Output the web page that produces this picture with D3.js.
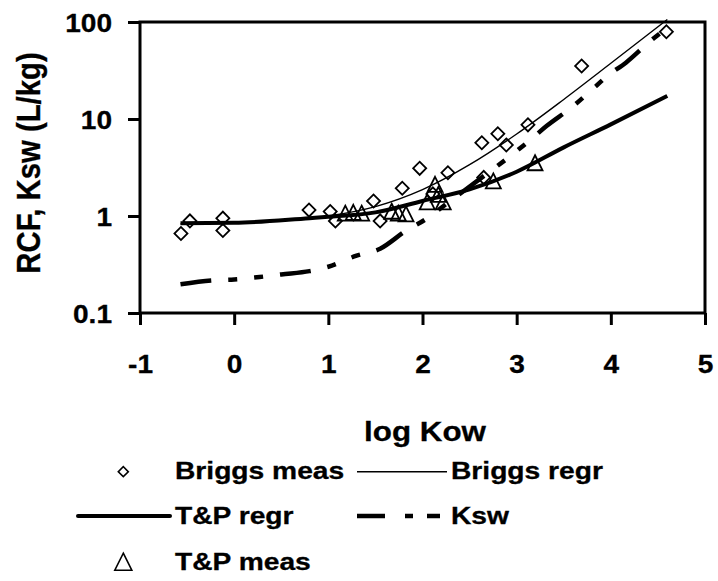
<!DOCTYPE html>
<html><head><meta charset="utf-8">
<script src="https://cdn.jsdelivr.net/npm/d3@7"></script>
<style>
html,body{margin:0;padding:0;background:#fff;}
svg{display:block;}
text{font-family:"Liberation Sans",Arial,sans-serif;font-weight:bold;fill:#000;stroke:#000;stroke-width:0.3px;}
</style></head><body>
<svg id="chart" width="718" height="581"></svg>
<script>
// ---- data ----
const xTicks = [-1, 0, 1, 2, 3, 4, 5];
const yTicks = [0.1, 1, 10, 100];
const yTickLabels = ["0.1", "1", "10", "100"];
const xTitle = "log Kow";
const yTitle = "RCF, Ksw (L/kg)";

const briggsMeasX = [-0.565, -0.47, -0.12, -0.12, 0.795, 1.02, 1.075, 1.48, 1.55, 1.785, 1.97, 2.11, 2.27, 2.63, 2.65, 2.80, 2.89, 3.12, 3.69, 4.59];
const briggsMeasY = [0.66, 0.89, 0.95, 0.71, 1.15, 1.11, 0.89, 1.43, 0.89, 1.93, 3.1, 1.69, 2.79, 5.7, 2.5, 7.05, 5.4, 8.7, 35.2, 79.4];

const tpMeasX = [1.18, 1.265, 1.354, 1.673, 1.743, 1.825, 2.05, 2.133, 2.168, 2.22, 2.752, 3.195];
const tpMeasY = [1.07, 1.09, 1.07, 1.12, 1.07, 1.05, 1.40, 2.12, 1.67, 1.40, 2.30, 3.54];

const briggsRegrX = [-0.57, 0, 0.5, 1, 1.5, 2, 2.5, 3, 3.5, 4, 4.6];
const briggsRegrY = [0.83, 0.85, 0.89, 1.0, 1.25, 1.87, 3.38, 7.0, 15.9, 37.5, 106];

const tpRegrX = [-0.57, 0, 0.8, 1, 1.5, 2, 2.5, 3, 3.5, 4, 4.6];
const tpRegrY = [0.84, 0.85, 0.95, 0.98, 1.09, 1.43, 1.88, 2.86, 5.1, 8.8, 17.3];

const kswX = [-0.57, -0.24, 0, 0.27, 0.5, 0.8, 1.0, 1.3, 1.55, 1.82, 2.03, 2.3, 2.6, 2.91, 3.14, 3.32, 3.58, 3.77, 3.97, 4.16, 4.40, 4.6];
const kswY = [0.198, 0.217, 0.222, 0.235, 0.25, 0.27, 0.30, 0.39, 0.46, 0.70, 0.92, 1.44, 2.37, 3.99, 6.03, 8.5, 13.1, 18.9, 28.1, 38.1, 61.2, 88];

const legendLabels = ["Briggs meas", "Briggs regr", "T&P regr", "Ksw", "T&P meas"];

// ---- layout ----
const L = 140, R = 705, T = 22, B = 313;
const SX = 1.1; // horizontal text stretch for tick labels
const svg = d3.select("#chart");
const x = d3.scaleLinear().domain([-1, 5]).range([L, R]);
const y = d3.scaleLog().domain([0.1, 100]).range([B, T]);

// frame
svg.append("rect").attr("x", L).attr("y", T).attr("width", R - L).attr("height", B - T)
  .attr("fill", "none").attr("stroke", "#000").attr("stroke-width", 3);

// axes
const yAxis = svg.append("g").attr("transform", `translate(${L},0)`)
  .call(d3.axisLeft(y).tickValues(yTicks).tickSize(12).tickSizeOuter(0)
    .tickFormat((d, i) => yTickLabels[i]));
const xAxis = svg.append("g").attr("transform", `translate(0,${B})`)
  .call(d3.axisBottom(x).tickValues(xTicks).tickSize(12).tickSizeOuter(0)
    .tickFormat(d => String(d)));
[yAxis, xAxis].forEach(g => {
  g.select(".domain").remove();
  g.selectAll(".tick line").attr("stroke", "#000").attr("stroke-width", 3);
  g.selectAll(".tick text").attr("fill", "#000").style("font-size", "25.5px")
    .style("font-family", '"Liberation Sans",Arial,sans-serif').style("font-weight", "bold");
});
yAxis.selectAll(".tick text").attr("x", -28 / SX).attr("dy", "0.36em")
  .attr("transform", `scale(${SX},1)`);
xAxis.selectAll(".tick text").attr("y", 60).attr("dy", 0)
  .attr("transform", `scale(${SX},1)`);

// titles
svg.append("text").attr("transform", `translate(425,441) scale(1.12,1)`)
  .attr("text-anchor", "middle").style("font-size", "28px").text(xTitle);
svg.append("text").attr("transform", `translate(40,163) scale(1.12,1) rotate(-90)`)
  .attr("text-anchor", "middle").style("font-size", "29.3px").text(yTitle);

// lines
const line = d3.line().x(d => x(d[0])).y(d => y(d[1])).curve(d3.curveMonotoneX);
const zip = (a, b) => a.map((v, i) => [v, b[i]]);
svg.append("path").datum(zip(kswX, kswY)).attr("d", line).attr("fill", "none")
  .attr("stroke", "#000").attr("stroke-width", 4.5).attr("stroke-dasharray", "31,17,9,17,9,17");
svg.append("path").datum(zip(tpRegrX, tpRegrY)).attr("d", line).attr("fill", "none")
  .attr("stroke", "#000").attr("stroke-width", 4);
svg.append("path").datum(zip(briggsRegrX, briggsRegrY)).attr("d", line).attr("fill", "none")
  .attr("stroke", "#000").attr("stroke-width", 1.4);

// markers
const diamond = d3.symbol().type(d3.symbolSquare).size(85);
const triPath = s => `M0,${-s / 2}L${s / 2},${s / 2}L${-s / 2},${s / 2}Z`;
svg.append("g").selectAll("path").data(zip(briggsMeasX, briggsMeasY)).join("path")
  .attr("d", diamond).attr("transform", d => `translate(${x(d[0])},${y(d[1])}) rotate(45)`)
  .attr("fill", "none").attr("stroke", "#000").attr("stroke-width", 1.8);
svg.append("g").selectAll("path").data(zip(tpMeasX, tpMeasY)).join("path")
  .attr("d", triPath(15)).attr("transform", d => `translate(${x(d[0])},${y(d[1])})`)
  .attr("fill", "none").attr("stroke", "#000").attr("stroke-width", 1.8);

// legend
const lg = svg.append("g");
const ltext = (tx, ty, s) => lg.append("text").attr("transform", `translate(${tx},${ty}) scale(1.2,1)`)
  .style("font-size", "23.5px").text(s);
lg.append("path").attr("d", d3.symbol().type(d3.symbolSquare).size(50))
  .attr("transform", "translate(123.3,471.7) rotate(45)").attr("fill", "none")
  .attr("stroke", "#000").attr("stroke-width", 1.6);
ltext(175, 479, legendLabels[0]);
lg.append("line").attr("x1", 357).attr("x2", 447).attr("y1", 471.7).attr("y2", 471.7)
  .attr("stroke", "#000").attr("stroke-width", 1.4);
ltext(451, 479, legendLabels[1]);
lg.append("line").attr("x1", 78).attr("x2", 170).attr("y1", 516).attr("y2", 516)
  .attr("stroke", "#000").attr("stroke-width", 4).attr("stroke-linecap", "round");
ltext(175, 524, legendLabels[2]);
lg.append("line").attr("x1", 357).attr("x2", 445).attr("y1", 516).attr("y2", 516)
  .attr("stroke", "#000").attr("stroke-width", 4.5).attr("stroke-dasharray", "28,20,8,14,13,40");
ltext(451, 524, legendLabels[3]);
lg.append("path").attr("d", triPath(17)).attr("transform", "translate(123.3,561.7)")
  .attr("fill", "none").attr("stroke", "#000").attr("stroke-width", 1.6);
ltext(175, 569.5, legendLabels[4]);
</script>
</body></html>
